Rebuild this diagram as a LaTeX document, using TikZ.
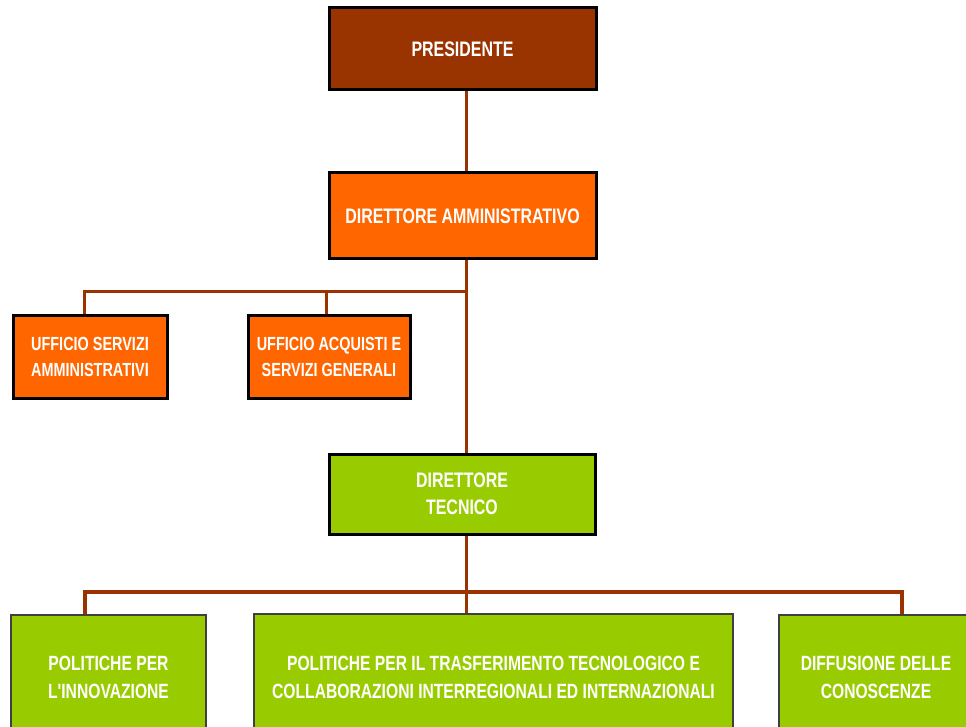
\documentclass[tikz,border=0pt]{standalone}
\usepackage{fontspec}
\newfontfamily\labfont{Liberation Sans}[FakeStretch=0.76]
\definecolor{brownC}{HTML}{993300}
\definecolor{orangeC}{HTML}{FF6600}
\definecolor{greenC}{HTML}{99CC00}
\begin{document}
\begin{tikzpicture}[x=1pt,y=1pt,
  box/.style={draw=black, line width=3pt, text=white, align=center, inner sep=0pt,
    font=\labfont\bfseries\fontsize{21}{27}\selectfont},
  smallbox/.style={box, font=\labfont\bfseries\fontsize{19}{26}\selectfont},
  lowbox/.style={box, draw=black!75, line width=2pt, font=\labfont\bfseries\fontsize{20.6}{28}\selectfont},
  link/.style={draw=brownC, line width=3pt},
  thicklink/.style={draw=brownC, line width=4.5pt}]
\useasboundingbox (0,0) rectangle (966,-727);
\clip (0,0) rectangle (966,-727);
\node[box, fill=brownC, minimum width=267, minimum height=82] (pres) at (462.5,-49) {PRESIDENTE};
\node[box, fill=orangeC, minimum width=267, minimum height=86] (dam) at (462.5,-216) {DIRETTORE AMMINISTRATIVO};
\node[smallbox, fill=orangeC, minimum width=154, minimum height=83] (usa) at (90,-356.5) {UFFICIO SERVIZI\\AMMINISTRATIVI};
\node[smallbox, fill=orangeC, minimum width=162, minimum height=83] (uag) at (329,-356.5) {UFFICIO ACQUISTI E\\SERVIZI GENERALI};
\node[box, fill=greenC, minimum width=266, minimum height=80] (dtec) at (462,-494) {DIRETTORE\\TECNICO};
\node[lowbox, fill=greenC, minimum width=195, minimum height=125] (pinn) at (108.5,-677.5) {POLITICHE PER\\L'INNOVAZIONE};
\node[lowbox, fill=greenC, minimum width=479, minimum height=127] (ptt) at (493.5,-677.5) {POLITICHE PER IL TRASFERIMENTO TECNOLOGICO E\\COLLABORAZIONI INTERREGIONALI ED INTERNAZIONALI};
\node[lowbox, fill=greenC, minimum width=194, minimum height=125] (dcon) at (876,-677.5) {DIFFUSIONE DELLE\\CONOSCENZE};
\coordinate (j1) at (466,-291);
\coordinate (j2) at (466,-592);
\draw[link] ([xshift=3.5pt]pres.south) -- ([xshift=3.5pt]dam.north);
\draw[link] ([xshift=3.5pt]dam.south) -- ([xshift=4pt]dtec.north);
\draw[link] (j1) -| ([xshift=-6pt]usa.north);
\draw[link] (j1) -| ([xshift=-3pt]uag.north);
\draw[link] ([xshift=4pt]dtec.south) -- ([xshift=-27.5pt]ptt.north);
\draw[thicklink] (j2) -| ([xshift=-23.5pt]pinn.north);
\draw[thicklink] (j2) -| ([xshift=26pt]dcon.north);
\end{tikzpicture}
\end{document}
